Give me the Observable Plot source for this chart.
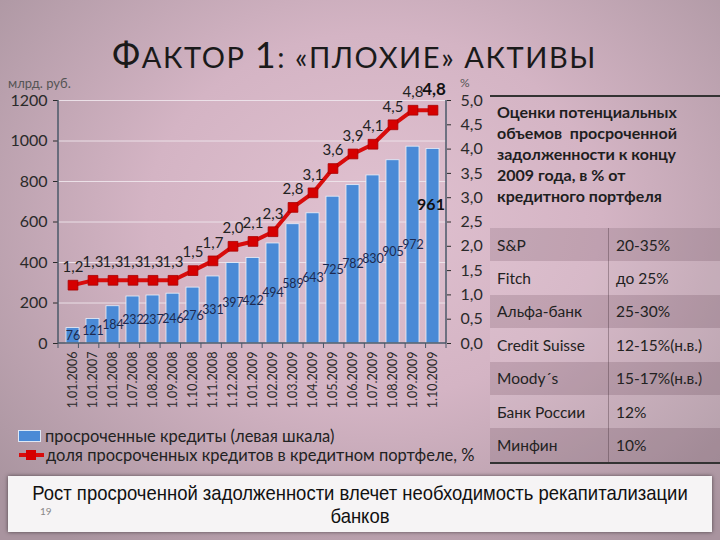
<!DOCTYPE html>
<html><head><meta charset="utf-8">
<script src="https://cdn.jsdelivr.net/npm/d3@7"></script>
<script src="https://cdn.jsdelivr.net/npm/@observablehq/plot@0.6"></script>
<style>
html,body{margin:0;padding:0;}
body{width:720px;height:540px;overflow:hidden;position:relative;font-family:Lato,"Open Sans",sans-serif;color:#222;
background:radial-gradient(ellipse 70% 75% at 52% 40%, #e0c1d0 0%, #d4b4c4 45%, #a9949f 100%);}
.abs{position:absolute;}
#title{left:112px;top:39px;height:30px;font-size:29px;line-height:30px;color:#1a1a1a;white-space:nowrap;letter-spacing:1.6px;}
#title .big{font-size:36px;line-height:30px;}
#unitL{left:8px;top:75px;font-size:13px;color:#555;}
#unitR{left:460px;top:77px;font-size:12px;line-height:12px;color:#555;}
#chart{left:0;top:60px;}
#legend{left:18px;top:426px;font-size:16.5px;color:#222;}
#legend div{height:20px;display:flex;align-items:center;white-space:nowrap;}
#table{left:490px;top:95px;width:230px;border-top:2px solid #333;border-bottom:2px solid #333;}
#thead{padding:4px 0 0 7px;height:127px;font-size:16px;font-weight:bold;line-height:21px;color:#1e1e1e;white-space:nowrap;}
.row{height:33.4px;display:flex;align-items:center;font-size:15.5px;color:#222;white-space:nowrap;}
.row .c1{padding-left:7px;height:100%;display:flex;align-items:center;border-right:1px solid rgba(60,40,50,0.35);box-sizing:border-box;width:119px;}
.row .c2{padding-left:7px;}
.row.shade{background:rgba(90,65,80,0.17);}
.row.light{background:rgba(255,255,255,0.08);}
#foot{left:8px;top:476px;width:704px;height:56px;background:#f6f4f5;box-shadow:0 0 4px rgba(0,0,0,0.55);font-family:"Liberation Sans",sans-serif;font-size:21px;line-height:23px;color:#111;padding-top:5px;box-sizing:border-box;overflow:hidden;}
#foot div{position:relative;left:50%;width:max-content;white-space:nowrap;transform:translateX(-50%) scaleX(0.88);}
#pg{left:40px;top:505px;font-size:10px;color:#888;}
</style></head>
<body>
<div id="title" class="abs"><span class="big">Ф</span>АКТОР <span class="big">1</span>: «ПЛОХИЕ» АКТИВЫ</div>
<div id="unitL" class="abs">млрд. руб.</div>
<div id="unitR" class="abs">%</div>
<div id="chart" class="abs"></div>
<div id="legend" class="abs"></div>
<div id="table" class="abs"></div>
<div id="foot" class="abs"><div>Рост просроченной задолженности влечет необходимость рекапитализации</div><div>банков</div></div>
<div id="pg" class="abs">19</div>
<script>
const dates = ["1.01.2006","1.01.2007","1.01.2008","1.07.2008","1.08.2008","1.09.2008","1.10.2008","1.11.2008","1.12.2008","1.01.2009","1.02.2009","1.03.2009","1.04.2009","1.05.2009","1.06.2009","1.07.2009","1.08.2009","1.09.2009","1.10.2009"];
const overdue = [76,121,184,232,237,246,276,331,397,422,494,589,643,725,782,830,905,972,961];
const share = [1.2,1.3,1.3,1.3,1.3,1.3,1.5,1.7,2.0,2.1,2.3,2.8,3.1,3.6,3.9,4.1,4.5,4.8,4.8];
const leftTicks = [0,200,400,600,800,1000,1200];
const rightTicks = [0,0.5,1.0,1.5,2.0,2.5,3.0,3.5,4.0,4.5,5.0];
const seriesNames = ["просроченные кредиты (левая шкала)","доля просроченных кредитов в кредитном портфеле, %"];
const tableTitle = "Оценки потенциальных<br>объемов&nbsp; просроченной<br>задолженности к концу<br>2009 года, в % от<br>кредитного портфеля";
const sources = ["S&P","Fitch","Альфа-банк","Credit Suisse","Moody´s","Банк России","Минфин"];
const estimates = ["20-35%","до 25%","25-30%","12-15%(н.в.)","15-17%(н.в.)","12%","10%"];

const blue = "#4a8ad6", red = "#d80c0c";
const K = 1200/5; // right-axis % mapped onto left scale
const fmtPct = v => v.toFixed(1).replace(".", ",");
const rows = dates.map((d,i)=>({date:d, overdue:overdue[i], share:share[i]}));
const W=500,H=365,ML=58,MR=54,MT=40,MB=82;
const step = (W-ML-MR)/dates.length;

const chart = Plot.plot({
  width:W, height:H, marginLeft:ML, marginRight:MR, marginTop:MT, marginBottom:MB,
  style:{background:"transparent", fontFamily:"Lato, sans-serif", color:"#2a2a2a", overflow:"visible"},
  x:{type:"band", domain:dates, paddingInner:0.35, paddingOuter:0.175, label:null},
  y:{domain:[0,1200], label:null},
  marks:[
    Plot.gridY(leftTicks.slice(1), {stroke:"#eee6ec", strokeOpacity:0.9}),
    Plot.barY(rows, {x:"date", y:"overdue", fill:blue, stroke:"#eaf1fb", strokeWidth:0.8}),
    Plot.text(rows.slice(0,-1), {x:"date", y:d=>d.overdue/2, text:d=>String(d.overdue), fill:"#1d2a50", fontSize:12.5}),
    Plot.text(rows.slice(-1), {x:"date", y:"overdue", text:d=>String(d.overdue), fill:"#111", fontSize:16, fontWeight:"bold", dy:56, dx:-2}),
    Plot.line(rows, {x:"date", y:d=>d.share*K, stroke:red, strokeWidth:4}),
    Plot.dot(rows, {x:"date", y:d=>d.share*K, symbol:"square", r:5.5, fill:"#d60000", stroke:"#a80000", strokeWidth:0.8}),
    Plot.text(rows.slice(0,-1), {x:"date", y:d=>d.share*K, text:d=>fmtPct(d.share), dy:-18, fontSize:15, fill:"#222"}),
    Plot.text(rows.slice(-1), {x:"date", y:d=>d.share*K, text:d=>fmtPct(d.share), dy:-21, dx:1, fontSize:17, fontWeight:"bold", fill:"#111"}),
    Plot.axisY({anchor:"left", ticks:leftTicks, tickFormat:d=>String(d), tickSize:5, tickPadding:6, fontSize:16, label:null}),
    Plot.axisY({anchor:"right", ticks:rightTicks.map(v=>v*K), tickFormat:d=>fmtPct(d/K), tickSize:4, tickPadding:10, fontSize:16, label:null}),
    Plot.axisX({tickRotate:-90, tickSize:0, tickPadding:8, fontSize:12.5, label:null})
  ]
});
document.getElementById("chart").appendChild(chart);
// axis lines and category boundary ticks
const svg = d3.select(chart);
const g = svg.append("g").attr("stroke","#4a5868");
g.append("line").attr("x1",ML).attr("x2",ML).attr("y1",MT).attr("y2",H-MB).attr("stroke-width",1.5);
g.append("line").attr("x1",W-MR).attr("x2",W-MR).attr("y1",MT).attr("y2",H-MB).attr("stroke-width",1.5);
g.append("line").attr("x1",ML).attr("x2",W-MR).attr("y1",H-MB).attr("y2",H-MB).attr("stroke-width",1.5);
for (let i=0;i<=dates.length;i++){
  const xb = ML + i*step;
  g.append("line").attr("x1",xb).attr("x2",xb).attr("y1",H-MB).attr("y2",H-MB+5);
}

// legend
const lg = d3.select("#legend");
const l1 = lg.append("div");
l1.append("span").style("display","inline-block").style("width","21px").style("height","10px").style("background",blue).style("border","1px solid #dde8f6").style("margin-right","4px");
l1.append("span").text(seriesNames[0]);
const l2 = lg.append("div").style("margin-top","-1px");
const ic = l2.append("svg").attr("width",27).attr("height",14).style("margin-right","1px");
ic.append("line").attr("x1",1).attr("x2",26).attr("y1",7).attr("y2",7).attr("stroke",red).attr("stroke-width",4);
ic.append("rect").attr("x",8).attr("y",2).attr("width",10).attr("height",10).attr("fill","#d60000");
l2.append("span").text(seriesNames[1]);

// table
const tb = d3.select("#table");
tb.append("div").attr("id","thead").html(tableTitle);
sources.forEach((s,i)=>{
  const r = tb.append("div").attr("class","row "+(i%2===0?"shade":"light"));
  r.append("div").attr("class","c1").text(s);
  r.append("div").attr("class","c2").text(estimates[i]);
});
</script>
</body></html>
